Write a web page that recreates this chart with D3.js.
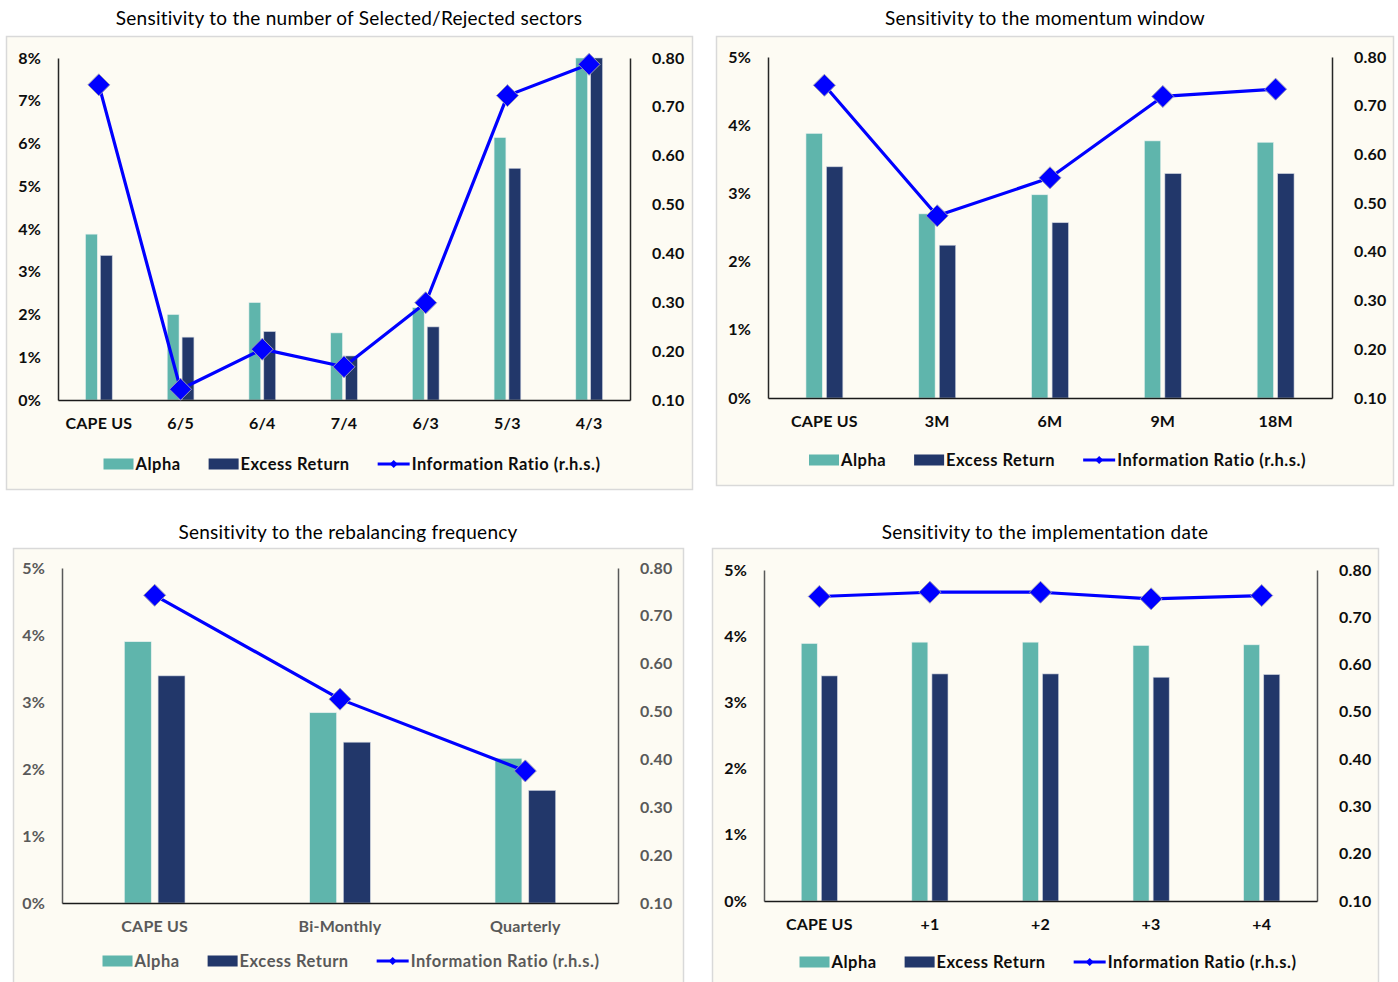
<!DOCTYPE html>
<html>
<head>
<meta charset="utf-8">
<script src="https://cdn.jsdelivr.net/npm/d3@7/dist/d3.min.js"></script>
<style>
  html, body { margin: 0; padding: 0; background: #ffffff; }
  svg { display: block; font-family: Lato, "Open Sans", sans-serif; }
</style>
</head>
<body>
<svg id="chart" width="1398" height="982"></svg>
<script>
// ---- Sensitivity to the number of Selected/Rejected sectors ----
const sectorCats   = ["CAPE US", "6/5", "6/4", "7/4", "6/3", "5/3", "4/3"];
const sectorAlpha  = [3.88, 2.00, 2.28, 1.57, 2.16, 6.14, 8.00];
const sectorExcess = [3.38, 1.47, 1.60, 1.03, 1.71, 5.42, 8.00];
const sectorIR     = [0.745, 0.122, 0.204, 0.168, 0.299, 0.723, 0.787];
const sectorLeftTicks = [0, 1, 2, 3, 4, 5, 6, 7, 8];

// ---- Sensitivity to the momentum window ----
const momentumCats   = ["CAPE US", "3M", "6M", "9M", "18M"];
const momentumAlpha  = [3.88, 2.70, 2.98, 3.77, 3.75];
const momentumExcess = [3.39, 2.24, 2.57, 3.29, 3.29];
const momentumIR     = [0.742, 0.474, 0.552, 0.719, 0.734];

// ---- Sensitivity to the rebalancing frequency ----
const rebalCats   = ["CAPE US", "Bi-Monthly", "Quarterly"];
const rebalAlpha  = [3.90, 2.84, 2.16];
const rebalExcess = [3.39, 2.40, 1.68];
const rebalIR     = [0.743, 0.526, 0.376];

// ---- Sensitivity to the implementation date ----
const implCats   = ["CAPE US", "+1", "+2", "+3", "+4"];
const implAlpha  = [3.89, 3.91, 3.91, 3.86, 3.87];
const implExcess = [3.40, 3.43, 3.43, 3.38, 3.42];
const implIR     = [0.744, 0.753, 0.753, 0.739, 0.746];

const pctTicks5 = [0, 1, 2, 3, 4, 5];
const irTicks   = [0.10, 0.20, 0.30, 0.40, 0.50, 0.60, 0.70, 0.80];
const seriesNames = ["Alpha", "Excess Return", "Information Ratio (r.h.s.)"];

const COLORS = { alpha: "#5fb5ac", excess: "#22376a", ir: "#0000ff", bg: "#fdfbf3", frame: "#d9d9d9" };

const svg = d3.select("#chart");

function diamondPath(r) {
  return `M0,${-r}L${r},0L0,${r}L${-r},0Z`;
}

function styleLabels(sel, color) {
  sel.attr("font-size", 16).attr("font-weight", "bold").attr("fill", color)
    .attr("font-family", "Lato, sans-serif").attr("letter-spacing", 0.2);
}

function drawPanel(cfg) {
  const g = svg.append("g");
  const { box, plot } = cfg;

  // panel frame
  g.append("rect")
    .attr("x", box.x + 0.5).attr("y", box.y + 0.5)
    .attr("width", box.w).attr("height", box.h)
    .attr("fill", COLORS.bg).attr("stroke", COLORS.frame).attr("stroke-width", 1.5);

  // title
  g.append("text")
    .attr("x", cfg.titleX).attr("y", cfg.titleY)
    .attr("text-anchor", "middle").attr("dominant-baseline", "central")
    .attr("font-size", 19).attr("letter-spacing", 0.25).attr("fill", "#000")
    .text(cfg.title);

  const x = d3.scaleBand().domain(cfg.cats).range([plot.l, plot.r]).paddingInner(0).paddingOuter(0);
  const y = d3.scaleLinear().domain([0, d3.max(cfg.leftTicks)]).range([plot.b, plot.t]);
  const y2 = d3.scaleLinear().domain([0.10, 0.80]).range([plot.b, plot.t]);

  const bw = x.bandwidth() * 0.145;
  const gap = x.bandwidth() * 0.037;

  const rows = cfg.cats.map((c, i) => ({ c, a: cfg.alpha[i], e: cfg.excess[i], ir: cfg.ir[i] }));

  // bars
  g.selectAll(".bar-a").data(rows).join("rect")
    .attr("x", d => x(d.c) + x.bandwidth() / 2 - gap / 2 - bw)
    .attr("y", d => y(d.a)).attr("width", bw).attr("height", d => y(0) - y(d.a))
    .attr("fill", COLORS.alpha).attr("stroke", "#e8f0ee").attr("stroke-width", 0.6);
  g.selectAll(".bar-e").data(rows).join("rect")
    .attr("x", d => x(d.c) + x.bandwidth() / 2 + gap / 2)
    .attr("y", d => y(d.e)).attr("width", bw).attr("height", d => y(0) - y(d.e))
    .attr("fill", COLORS.excess).attr("stroke", "#c9cfdc").attr("stroke-width", 0.6);

  const textColor = cfg.textColor;
  const axisColor = cfg.axisColor;

  // left axis
  const la = g.append("g").attr("transform", `translate(${plot.l},0)`)
    .call(d3.axisLeft(y).tickValues(cfg.leftTicks).tickSize(0).tickPadding(17).tickFormat(d => d + "%"));
  la.select(".domain").attr("stroke", axisColor).attr("stroke-width", 1.5);
  styleLabels(la.selectAll("text"), textColor);

  // right axis
  const ra = g.append("g").attr("transform", `translate(${plot.r},0)`)
    .call(d3.axisRight(y2).tickValues(irTicks).tickSize(0).tickPadding(22).tickFormat(d3.format(".2f")));
  ra.select(".domain").attr("stroke", axisColor).attr("stroke-width", 1.5);
  styleLabels(ra.selectAll("text"), textColor);

  // bottom axis
  const ba = g.append("g").attr("transform", `translate(0,${plot.b})`)
    .call(d3.axisBottom(x).tickSize(0).tickPadding(18));
  ba.select(".domain").attr("stroke", "#1a1a1a").attr("stroke-width", 1.5);
  styleLabels(ba.selectAll("text"), textColor);

  // information ratio line
  const line = d3.line().x(d => x(d.c) + x.bandwidth() / 2).y(d => y2(d.ir));
  g.append("path").datum(rows).attr("d", line)
    .attr("fill", "none").attr("stroke", COLORS.ir).attr("stroke-width", 3.2).attr("stroke-linejoin", "round");
  g.selectAll(".mk").data(rows).join("path")
    .attr("transform", d => `translate(${x(d.c) + x.bandwidth() / 2},${y2(d.ir)})`)
    .attr("d", diamondPath(11))
    .attr("fill", COLORS.ir).attr("stroke", "#9a9ab8").attr("stroke-width", 1);

  // legend
  const leg = g.append("g");
  const ly = plot.b + cfg.legendDy;
  let cx = 0;
  seriesNames.forEach((name, i) => {
    const it = leg.append("g").attr("transform", `translate(${cx},0)`);
    if (i < 2) {
      it.append("rect").attr("x", 0).attr("y", ly - 5.5).attr("width", 30).attr("height", 11)
        .attr("fill", i === 0 ? COLORS.alpha : COLORS.excess);
    } else {
      it.append("line").attr("x1", 0).attr("x2", 32).attr("y1", ly).attr("y2", ly)
        .attr("stroke", COLORS.ir).attr("stroke-width", 3);
      it.append("path").attr("transform", `translate(16,${ly})`).attr("d", diamondPath(4)).attr("fill", COLORS.ir);
    }
    const t = it.append("text").attr("x", i < 2 ? 32 : 34).attr("y", ly)
      .attr("dominant-baseline", "central").attr("font-size", 16.5).attr("font-weight", "bold")
      .attr("letter-spacing", 0.5).attr("fill", textColor).text(name);
    const w = (i < 2 ? 32 : 34) + t.node().getComputedTextLength();
    cx += w + (i < 2 ? 28 : 0);
  });
  const legW = cx;
  leg.attr("transform", `translate(${box.x + box.w / 2 + 3 - legW / 2},0)`);
}

drawPanel({
  title: "Sensitivity to the number of Selected/Rejected sectors",
  titleX: 349, titleY: 17,
  box: { x: 6, y: 36, w: 686, h: 453 },
  plot: { l: 58, t: 58, r: 630, b: 400 },
  cats: sectorCats, alpha: sectorAlpha, excess: sectorExcess, ir: sectorIR,
  leftTicks: sectorLeftTicks, legendDy: 64, textColor: "#0d0d0d", axisColor: "#262626"
});

drawPanel({
  title: "Sensitivity to the momentum window",
  titleX: 1045, titleY: 17,
  box: { x: 716, y: 36, w: 677, h: 449 },
  plot: { l: 768, t: 57, r: 1332, b: 398 },
  cats: momentumCats, alpha: momentumAlpha, excess: momentumExcess, ir: momentumIR,
  leftTicks: pctTicks5, legendDy: 62, textColor: "#0d0d0d", axisColor: "#262626"
});

drawPanel({
  title: "Sensitivity to the rebalancing frequency",
  titleX: 348, titleY: 531,
  box: { x: 13, y: 548, w: 670, h: 440 },
  plot: { l: 62, t: 568, r: 618, b: 903 },
  cats: rebalCats, alpha: rebalAlpha, excess: rebalExcess, ir: rebalIR,
  leftTicks: pctTicks5, legendDy: 58, textColor: "#595959", axisColor: "#595959"
});

drawPanel({
  title: "Sensitivity to the implementation date",
  titleX: 1045, titleY: 531,
  box: { x: 712, y: 548, w: 666, h: 440 },
  plot: { l: 764, t: 570, r: 1317, b: 901 },
  cats: implCats, alpha: implAlpha, excess: implExcess, ir: implIR,
  leftTicks: pctTicks5, legendDy: 61, textColor: "#0d0d0d", axisColor: "#595959"
});
</script>
</body>
</html>
